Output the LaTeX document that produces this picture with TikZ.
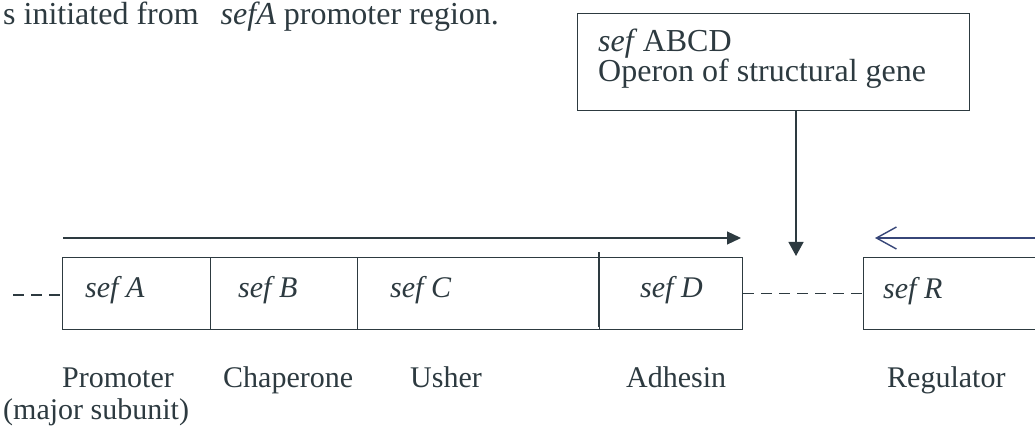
\documentclass[tikz,border=0pt]{standalone}
\usepackage{fontspec}
\setmainfont{Liberation Serif}
\usetikzlibrary{arrows.meta,calc}
\definecolor{ink}{RGB}{45,58,64}
\definecolor{bluish}{RGB}{55,70,120}
\tikzset{
  txt/.style={anchor=base west, inner sep=0pt, text=ink, font=\fontsize{30}{30}\selectfont},
  bigtxt/.style={anchor=base west, inner sep=0pt, text=ink, font=\fontsize{32}{30}\selectfont},
  gene/.style={draw=ink, line width=1.2pt, minimum height=72pt, inner sep=0pt, anchor=north west},
  conn/.style={draw=ink, line width=1.2pt},
  dashconn/.style={draw=ink, line width=1.1pt, dash pattern=on 11pt off 7pt},
}
\begin{document}
\begin{tikzpicture}[x=1pt,y=-1pt]
\clip (0,0) rectangle (1035,430);
\fill[white] (0,0) rectangle (1035,430);

% top sentence fragment
\node[bigtxt] (top) at (3,25) {s initiated from\hspace{22pt}\textit{sefA} promoter region.};

% operon box
\node[draw=ink, line width=1.2pt, minimum width=392pt, minimum height=97pt, inner sep=0pt, anchor=north west] (op) at (577,13) {};
\node[bigtxt] (opl1) at (598,52) {\textit{sef}\,ABCD};
\node[bigtxt] (opl2) at (598,82) {Operon of structural gene};

% gene boxes
\node[gene, minimum width=148pt] (sefA) at (62,257) {};
\node[gene, minimum width=147pt] (sefB) at (210,257) {};
\node[gene, minimum width=242pt] (sefC) at (357,257) {};
\node[gene, minimum width=143pt] (sefD) at (599,257) {};
\node[gene, minimum width=200pt] (sefR) at (863,257) {};
\draw[conn] ([yshift=5pt]sefD.north west) -- ([yshift=3pt]sefD.south west);

\node[txt] (tA) at (85,297) {\textit{sef A}};
\node[txt] (tB) at (238,297) {\textit{sef B}};
\node[txt] (tC) at (390,297) {\textit{sef C}};
\node[txt] (tD) at (640,297) {\textit{sef D}};
\node[txt] (tR) at (883,298) {\textit{sef R}};

% dashed links
\coordinate (lft) at (13,295);
\draw[dashconn] (lft) -- (lft -| sefA.west);
\draw[dashconn] (sefD.east) -- (sefR.west);

% transcription arrows
\coordinate (r1) at (63,238);
\coordinate (r2) at (741,238);
\draw[conn, -{Triangle[length=14pt,width=13pt]}] (r1) -- (r2);
\coordinate (l1) at (1040,238);
\coordinate (l2) at (875,238);
\draw[draw=bluish, line width=1.1pt, -{Straight Barb[length=20pt,width=22pt,line width=1.4pt]}] (l1) -- (l2);

% down arrow from operon box
\coordinate (dn) at (796,256);
\draw[conn, -{Triangle[length=14pt,width=15pt]}] (dn |- op.south) -- (dn);

% labels
\node[txt] (lP) at (62,387) {Promoter};
\node[txt] (lM) at (3,419) {(major subunit)};
\node[txt] (lCh) at (223,387) {Chaperone};
\node[txt] (lU) at (410,387) {Usher};
\node[txt] (lAd) at (626,387) {Adhesin};
\node[txt] (lR) at (887,387) {Regulator};
\end{tikzpicture}
\end{document}
